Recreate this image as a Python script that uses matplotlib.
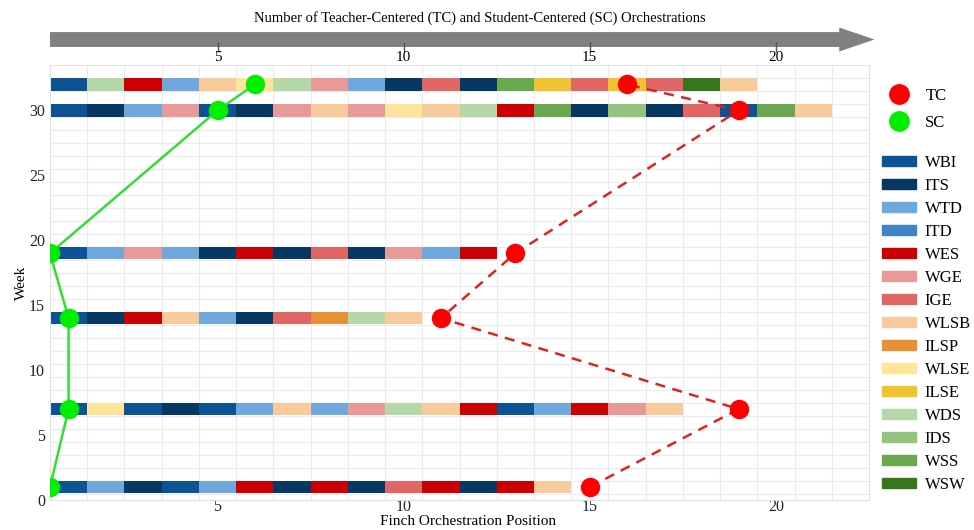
import numpy as np
import matplotlib.pyplot as plt
from matplotlib.patches import Patch, FancyArrow
from matplotlib.lines import Line2D

plt.rcParams['font.family'] = ['Liberation Serif', 'DejaVu Serif']

# orchestration codes and their colours
codes = ["WBI", "ITS", "WTD", "ITD", "WES", "WGE", "IGE", "WLSB",
         "ILSP", "WLSE", "ILSE", "WDS", "IDS", "WSS", "WSW"]
code_colors = ["#0b5394", "#073763", "#6fa8dc", "#3d85c6", "#cc0000", "#ea9999",
               "#e06666", "#f9cb9c", "#e69138", "#ffe599", "#f1c232", "#b6d7a8",
               "#93c47d", "#6aa84f", "#38761d"]
cmap = dict(zip(codes, code_colors))

weeks = [1, 7, 14, 19, 30, 32]
week1 = ["WBI", "WTD", "ITS", "WBI", "WTD", "WES", "ITS", "WES", "ITS", "IGE",
         "WES", "ITS", "WES", "WLSB"]
week7 = ["WBI", "WLSE", "WBI", "ITS", "WBI", "WTD", "WLSB", "WTD", "WGE", "WDS",
         "WLSB", "WES", "WBI", "WTD", "WES", "WGE", "WLSB"]
week14 = ["WBI", "ITS", "WES", "WLSB", "WTD", "ITS", "IGE", "ILSP", "WDS", "WLSB"]
week19 = ["WBI", "WTD", "WGE", "WTD", "ITS", "WES", "ITS", "IGE", "ITS", "WGE",
          "WTD", "WES"]
week30 = ["WBI", "ITS", "WTD", "WGE", "WBI", "ITS", "WGE", "WLSB", "WGE", "WLSE",
          "WLSB", "WDS", "WES", "WSS", "ITS", "IDS", "ITS", "IGE", "WBI", "WSS",
          "WLSB"]
week32 = ["WBI", "WDS", "WES", "WTD", "WLSB", "WLSE", "WDS", "WGE", "WTD", "ITS",
          "IGE", "ITS", "WSS", "ILSE", "IGE", "ILSE", "IGE", "WSW", "WLSB"]
sequences = [week1, week7, week14, week19, week30, week32]

tc = [15, 19, 11, 13, 19, 16]
sc = [0.5, 1, 1, 0.5, 5, 6]

fig = plt.figure(figsize=(9.74, 5.3), dpi=100)
ax = fig.add_axes([50/974, 30/530, 819/974, 435/530])

for w, seq in zip(weeks, sequences):
    pos = np.arange(1, len(seq) + 1)
    ax.barh([w] * len(seq), 1, left=pos - 0.5, height=0.95,
            color=[cmap[c] for c in seq], zorder=2)

ax.plot(sc, weeks, color="#33dd33", lw=1.8, marker="o", ms=13,
        mfc="#00ee00", mec="#00ee00", zorder=4)
ax.plot(tc, weeks, color="#dd2222", lw=1.8, ls=(0, (4, 3)), zorder=3)
ax.plot(tc, weeks, ls="none", marker="o", ms=13, mfc="#ff0000", mec="#ff0000", zorder=4)

ax.set_xlim(0.5, 22.5)
ax.set_ylim(0, 33.5)
ax.set_xticks([5, 10, 15, 20])
ax.set_yticks([0, 5, 10, 15, 20, 25, 30])
ax.set_xticks(np.arange(1.5, 22.5, 1), minor=True)
ax.set_yticks(np.arange(0.5, 33.5, 1), minor=True)
ax.grid(which="minor", color="#ececec", lw=0.8, zorder=0)
ax.tick_params(which="both", length=0, labelsize=11.5, colors="#222222")
ax.tick_params(axis="x", pad=-1)
for s in ax.spines.values():
    s.set_color("#e0e0e0")
ax.set_xlabel("Finch Orchestration Position", fontsize=11, labelpad=0, x=0.51)
ax.set_ylabel("Week", fontsize=11, labelpad=1)

# top arrow
aax = fig.add_axes([50/974, 478/530, 819/974, 24/530])
aax.set_xlim(0.5, 22.5)
aax.set_ylim(0, 1)
aax.add_patch(FancyArrow(0.5, 0.52, 22.15, 0, width=0.62, head_width=1.0,
                         head_length=0.95, length_includes_head=True,
                         color="#808080", lw=0, clip_on=False))
aax.set_xticks([5, 10, 15, 20])
aax.set_yticks([])
aax.tick_params(axis="x", direction="in", length=7, width=1, color="#555555",
                labelsize=11, pad=-1)
for s in aax.spines.values():
    s.set_visible(False)
aax.patch.set_alpha(0)
fig.text(480/974, 1 - 18/530, "Number of Teacher-Centered (TC) and Student-Centered (SC) Orchestrations",
         ha="center", va="center", fontsize=10.5)

# legends
dots = [Line2D([], [], ls="none", marker="o", ms=14, mfc="#ff0000", mec="#ff0000"),
        Line2D([], [], ls="none", marker="o", ms=14, mfc="#00ee00", mec="#00ee00")]
fig.legend(dots, ["TC", "SC"], loc="upper left", bbox_to_anchor=(882/974, 1 - 88/530),
           frameon=False, fontsize=12, handlelength=2.0, handletextpad=0.6,
           labelspacing=0.65, borderaxespad=0, borderpad=0)
patches = [Patch(color=c) for c in code_colors]
fig.legend(patches, codes, loc="upper left", bbox_to_anchor=(882/974, 1 - 155/530),
           frameon=False, fontsize=12, handlelength=2.05, handleheight=0.6,
           handletextpad=0.5, labelspacing=0.42, borderaxespad=0, borderpad=0)

fig.savefig("out.png", dpi=100)
